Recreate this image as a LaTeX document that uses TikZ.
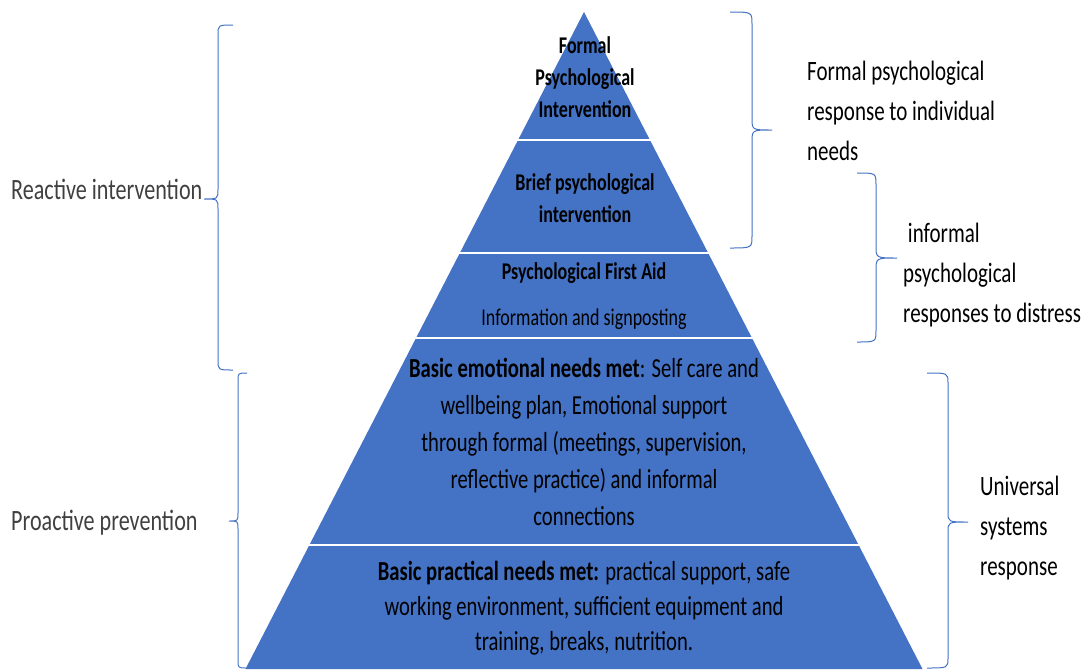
\documentclass[tikz,border=0pt]{standalone}
\usepackage{fontspec}
\setmainfont{Carlito}[FakeStretch=0.75]
\definecolor{tierblue}{HTML}{4472C4}
\definecolor{labelgrey}{HTML}{404040}
% curly brace: ends x, spine x, tip x, top y, mid y, bottom y, curve length
\newcommand\curlybr[7]{%
  \draw[bracestyle] (#1,#4) .. controls (#2,#4) and (#2,#4) .. (#2,#4+#7)
    -- (#2,#5-#7) .. controls (#2,#5) and (#2,#5) .. (#3,#5)
    .. controls (#2,#5) and (#2,#5) .. (#2,#5+#7)
    -- (#2,#6-#7) .. controls (#2,#6) and (#2,#6) .. (#1,#6);}
\begin{document}
\begin{tikzpicture}[x=1pt,y=-1pt,
  bracestyle/.style={draw=tierblue,line width=1pt},
  tierfill/.style={fill=tierblue},
  divider/.style={draw=white,line width=2.2pt},
  tiertext/.style={font=\fontsize{24}{32}\selectfont,align=center,inner sep=0pt,text=black},
  basetext/.style={font=\fontsize{27.5}{36}\selectfont,align=center,inner sep=0pt,text=black},
  sidelabel/.style={font=\fontsize{28}{40}\selectfont,align=left,inner sep=0pt,text=black},
  greylabel/.style={font=\fontsize{29.5}{40}\selectfont,align=left,inner sep=0pt,text=labelgrey}]
\useasboundingbox (0,0) rectangle (1082,670);

% pyramid body
\coordinate (apex) at (584,12);
\coordinate (bl) at (245.5,669);
\coordinate (br) at (922.5,669);
\fill[tierfill] (apex) -- (br) -- (bl) -- cycle;

% tier dividers
\coordinate (d1l) at (517,140); \coordinate (d1r) at (651,140);
\coordinate (d2l) at (459,253); \coordinate (d2r) at (709,253);
\coordinate (d3l) at (415,338); \coordinate (d3r) at (753,338);
\coordinate (d4l) at (308,545); \coordinate (d4r) at (860,545);
\draw[divider] (d1l) -- (d1r);
\draw[divider] (d2l) -- (d2r);
\draw[divider] (d3l) -- (d3r);
\draw[divider] (d4l) -- (d4r);

% tier texts
\node[tiertext] (t1) at (585,77) {\bfseries Formal\\\bfseries Psychological\\\bfseries Intervention};
\node[tiertext] (t2) at (585,198) {\bfseries Brief psychological\\\bfseries intervention};
\node[tiertext] (t3a) at (584,273) {\bfseries Psychological First Aid};
\node[tiertext] (t3b) at (584,319) {Information and signposting};
\node[basetext,font=\fontsize{27.5}{37}\selectfont] (t4) at (584,442)
  {\textbf{Basic emotional needs met}: Self care and\\wellbeing plan, Emotional support\\through formal (meetings, supervision,\\reflective practice) and informal\\connections};
\node[basetext,font=\fontsize{27.5}{35}\selectfont] (t5) at (584,608)
  {\textbf{Basic practical needs met:} practical support, safe\\working environment, sufficient equipment and\\training, breaks, nutrition.};

% braces
\curlybr{233}{218}{204}{25}{199}{370}{10}
\curlybr{247}{238}{229}{373}{521}{668}{8}
\curlybr{730}{752}{772}{12}{130}{248}{12}
\curlybr{857}{876}{897}{173}{258}{342}{12}
\curlybr{927}{948}{968}{373}{522}{668}{10}

% side labels
\node[greylabel,anchor=west] (reactive) at (11,189) {Reactive intervention};
\node[greylabel,anchor=west] (proactive) at (11,523) {Proactive prevention};
\node[sidelabel,anchor=west] (formalresp) at (807,111) {Formal psychological\\response to individual\\needs};
\node[sidelabel,anchor=west] (informalresp) at (903,275) {\ informal\\psychological\\responses to distress};
\node[sidelabel,anchor=west] (universal) at (980,528) {Universal\\systems\\response};
\end{tikzpicture}
\end{document}
